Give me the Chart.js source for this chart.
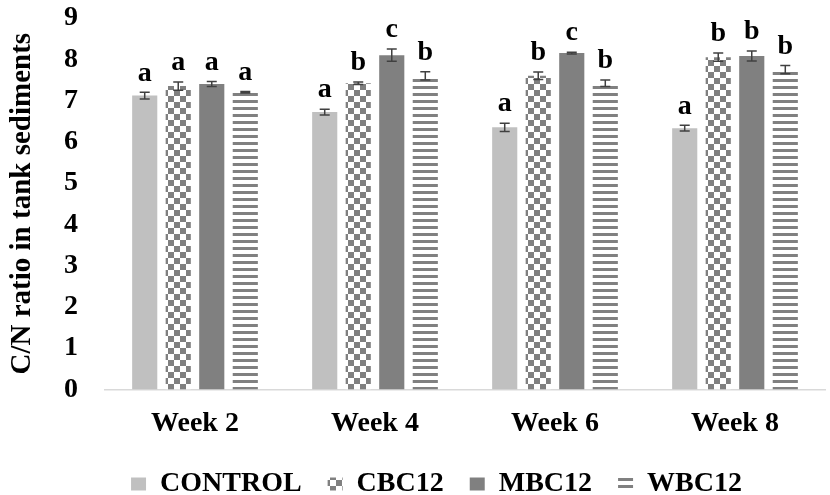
<!DOCTYPE html>
<html>
<head>
<meta charset="utf-8">
<script src="https://cdn.jsdelivr.net/npm/chart.js@4/dist/chart.umd.min.js"></script>
<style>
  html, body { margin: 0; padding: 0; background: #fff; }
  #wrap { width: 830px; height: 495px; }
</style>
</head>
<body>
<div id="wrap"><canvas id="chart"></canvas></div>
<script>
const weeks = ['Week 2', 'Week 4', 'Week 6', 'Week 8'];
const seriesNames = ['CONTROL', 'CBC12', 'MBC12', 'WBC12'];

const control = [7.12, 6.72, 6.35, 6.33];
const cbc12 = [7.35, 7.42, 7.6, 8.05];
const mbc12 = [7.4, 8.1, 8.15, 8.08];
const wbc12 = [7.2, 7.6, 7.42, 7.75];

const controlErr = [0.08, 0.07, 0.1, 0.07];
const cbc12Err = [0.1, 0.03, 0.09, 0.1];
const mbc12Err = [0.06, 0.15, 0.02, 0.12];
const wbc12Err = [0.02, 0.1, 0.08, 0.1];

const controlSig = ['a', 'a', 'a', 'a'];
const cbc12Sig = ['a', 'b', 'b', 'b'];
const mbc12Sig = ['a', 'c', 'c', 'b'];
const wbc12Sig = ['a', 'b', 'b', 'b'];

const yTicks = [0, 1, 2, 3, 4, 5, 6, 7, 8, 9];

const serif = "'Liberation Serif', 'Times New Roman', serif";
const dark = '#808080';
const light = '#c0c0c0';

function checkerPattern() {
    const c = document.createElement('canvas');
    c.width = 12;
    c.height = 12;
    const g = c.getContext('2d');
    g.fillStyle = '#fff';
    g.fillRect(0, 0, 12, 12);
    g.fillStyle = dark;
    g.fillRect(0, 0, 6, 6);
    g.fillRect(6, 6, 6, 6);
    return g.createPattern(c, 'repeat');
}

function stripePattern() {
    const c = document.createElement('canvas');
    c.width = 8;
    c.height = 7;
    const g = c.getContext('2d');
    g.fillStyle = '#fff';
    g.fillRect(0, 0, 8, 7);
    g.fillStyle = dark;
    g.fillRect(0, 2, 8, 3);
    return g.createPattern(c, 'repeat');
}

// error bars + significance letters over each bar, plus legend placement tweaks
const barExtras = {
    id: 'barExtras',
    beforeLayout(chart) {
        const lg = chart.legend;
        if (lg && !lg._squeezed) {
            const fit = lg.fit.bind(lg);
            lg.fit = () => {
                fit();
                lg.height -= 17; // give the plot more room, legend keeps its row spacing
            };
            lg._squeezed = true;
        }
    },
    afterLayout(chart) {
        const lg = chart.legend;
        lg.left += 20;
        lg.right += 20;
        lg.top -= 15;
        lg.bottom -= 15;
    },
    afterDatasetsDraw(chart) {
        const { ctx, scales } = chart;
        const y = scales.y;
        chart.data.datasets.forEach((ds, di) => {
            const meta = chart.getDatasetMeta(di);
            meta.data.forEach((bar, i) => {
                const v = ds.data[i];
                const e = ds.errors[i];
                const yt = y.getPixelForValue(v + e);
                const yb = y.getPixelForValue(v - e);
                ctx.save();
                ctx.strokeStyle = '#404040';
                ctx.lineWidth = 1.5;
                ctx.beginPath();
                ctx.moveTo(bar.x, yt);
                ctx.lineTo(bar.x, yb);
                ctx.moveTo(bar.x - 5, yt);
                ctx.lineTo(bar.x + 5, yt);
                ctx.moveTo(bar.x - 5, yb);
                ctx.lineTo(bar.x + 5, yb);
                ctx.stroke();
                ctx.fillStyle = '#000';
                ctx.font = `bold 28px ${serif}`;
                ctx.textAlign = 'center';
                ctx.textBaseline = 'bottom';
                ctx.fillText(ds.sig[i], bar.x, yt - 5);
                ctx.restore();
            });
        });
    },
};

new Chart(document.getElementById('chart'), {
    type: 'bar',
    data: {
        labels: weeks,
        datasets: [
            { label: seriesNames[0], data: control, errors: controlErr, sig: controlSig, backgroundColor: light },
            { label: seriesNames[1], data: cbc12, errors: cbc12Err, sig: cbc12Sig, backgroundColor: checkerPattern() },
            { label: seriesNames[2], data: mbc12, errors: mbc12Err, sig: mbc12Sig, backgroundColor: dark },
            { label: seriesNames[3], data: wbc12, errors: wbc12Err, sig: wbc12Sig, backgroundColor: stripePattern() },
        ],
    },
    options: {
        responsive: true,
        maintainAspectRatio: false,
        animation: false,
        datasets: {
            bar: { barPercentage: 0.75, categoryPercentage: 0.745 },
        },
        layout: { padding: { top: 0, right: 5, left: 8, bottom: -11 } },
        plugins: {
            legend: {
                position: 'bottom',
                labels: {
                    boxWidth: 15,
                    boxHeight: 13,
                    padding: 26,
                    color: '#000',
                    font: { family: serif, size: 28, weight: 'bold' },
                },
            },
            tooltip: { enabled: false },
        },
        scales: {
            x: {
                grid: { display: false, drawTicks: false },
                border: { color: '#d9d9d9', width: 1.5 },
                ticks: { color: '#000', padding: 18, font: { family: serif, size: 28, weight: 'bold' } },
            },
            y: {
                min: 0,
                max: 9,
                afterBuildTicks: (axis) => { axis.ticks = yTicks.map((v) => ({ value: v })); },
                afterFit: (axis) => {
                    axis.paddingTop = 18;
                    axis.paddingBottom = 0;
                },
                grid: { display: false, drawTicks: false },
                border: { display: false },
                ticks: { color: '#000', padding: 27, font: { family: serif, size: 28, weight: 'bold' } },
                title: {
                    display: true,
                    text: 'C/N ratio in tank sediments',
                    color: '#000',
                    padding: 0,
                    font: { family: serif, size: 29, weight: 'bold', lineHeight: 1 },
                },
            },
        },
    },
    plugins: [barExtras],
});
</script>
</body>
</html>
